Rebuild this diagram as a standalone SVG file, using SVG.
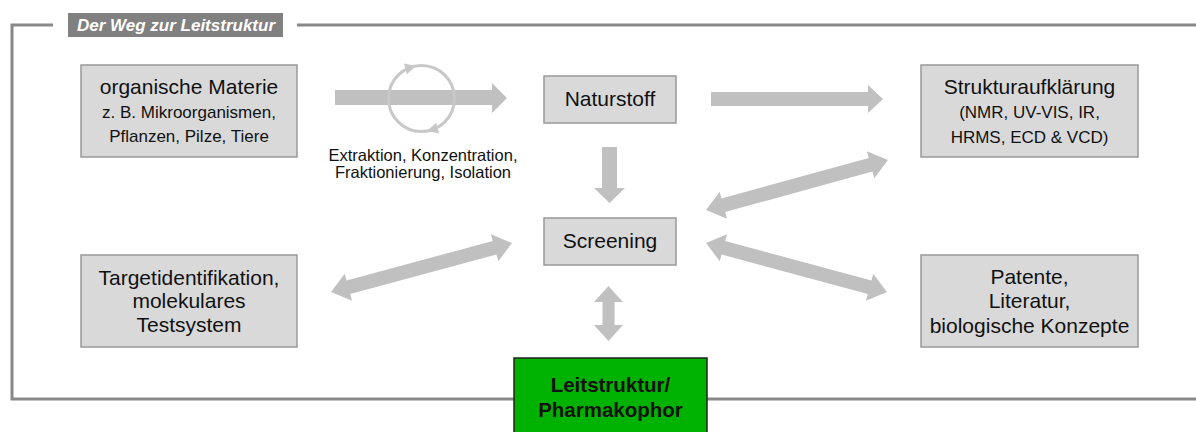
<svg xmlns="http://www.w3.org/2000/svg" width="1196" height="432" viewBox="0 0 1196 432">
<style>
.frame{fill:none;stroke:#888;stroke-width:3}
.box{fill:#d9d9d9;stroke:#999;stroke-width:1.5}
.t{font-family:"Liberation Sans",Arial,sans-serif;fill:#111;text-anchor:middle}
.l{font-size:21px}
.s{font-size:17px}
.arr{fill:#c0c0c0}
</style>
<rect width="1196" height="432" fill="#fff"/>
<g id="frame">
<polyline class="frame" points="53,25 12,25 12,399 514,399"/>
<polyline class="frame" points="297,25 1196,25"/>
<line class="frame" x1="707" y1="399" x2="1196" y2="399"/>
<rect x="68" y="13" width="215" height="24" fill="#808080"/>
<text x="176" y="31" font-family="Liberation Sans,Arial,sans-serif" font-size="17" font-weight="bold" font-style="italic" fill="#fff" text-anchor="middle">Der Weg zur Leitstruktur</text>
</g>
<g id="connectors">
<polygon class="arr" points="335,90 492,90 492,83 507,98 492,113 492,105 335,105"/>
<circle cx="421.5" cy="98.5" r="33" fill="none" stroke="#c8c8c8" stroke-width="3"/>
<polygon fill="#c8c8c8" points="0,0 -11,-5.5 -11,5.5" transform="translate(416,66) rotate(-15)"/>
<polygon fill="#c8c8c8" points="0,0 -11,-5.5 -11,5.5" transform="translate(427,131) rotate(165)"/>
<polygon class="arr" points="711,92 868,92 868,85 883,99 868,113 868,106 711,106"/>
<polygon class="arr" points="602,147 617,147 617,188 625,188 609.5,203 594,188 602,188"/>
<path class="arr" d="M0,0 L18,-14 L18,-7 L170.7,-7 L170.7,-14 L188.7,0 L170.7,14 L170.7,7 L18,7 L18,14 Z" transform="translate(706,210) rotate(-15.36)"/>
<path class="arr" d="M0,0 L18,-14 L18,-7 L169.5,-7 L169.5,-14 L187.5,0 L169.5,14 L169.5,7 L18,7 L18,14 Z" transform="translate(706,243) rotate(15.15)"/>
<path class="arr" d="M0,0 L18,-14 L18,-7 L169.5,-7 L169.5,-14 L187.5,0 L169.5,14 L169.5,7 L18,7 L18,14 Z" transform="translate(331,292) rotate(-15.15)"/>
<polygon class="arr" points="608.5,286 623,302 614.5,302 614.5,325 623,325 608.5,341 594,325 602.5,325 602.5,302 594,302"/>
<text class="t" x="423" y="160.5" font-size="16.5">Extraktion, Konzentration,</text>
<text class="t" x="423" y="178" font-size="16.5">Fraktionierung, Isolation</text>
</g>
<g id="organische">
<rect class="box" x="81" y="65" width="216" height="92"/>
<text class="t l" x="189" y="94">organische Materie</text>
<text class="t s" x="189" y="118">z. B. Mikroorganismen,</text>
<text class="t s" x="189" y="142">Pflanzen, Pilze, Tiere</text>
</g>
<g id="naturstoff">
<rect class="box" x="544" y="76" width="132" height="47"/>
<text class="t l" x="610" y="106">Naturstoff</text>
</g>
<g id="struktur">
<rect class="box" x="921" y="65" width="217" height="92"/>
<text class="t l" x="1029.5" y="94">Strukturaufklärung</text>
<text class="t s" x="1029.5" y="118">(NMR, UV-VIS, IR,</text>
<text class="t s" x="1029.5" y="143">HRMS, ECD &amp; VCD)</text>
</g>
<g id="screening">
<rect class="box" x="544" y="218" width="132" height="47"/>
<text class="t l" x="610" y="248">Screening</text>
</g>
<g id="target">
<rect class="box" x="81" y="255" width="216" height="92"/>
<text class="t l" x="189" y="285">Targetidentifikation,</text>
<text class="t l" x="189" y="308">molekulares</text>
<text class="t l" x="189" y="332">Testsystem</text>
</g>
<g id="patente">
<rect class="box" x="921" y="255" width="217" height="92"/>
<text class="t l" x="1029.5" y="284">Patente,</text>
<text class="t l" x="1029.5" y="308">Literatur,</text>
<text class="t l" x="1029.5" y="333">biologische Konzepte</text>
</g>
<g id="leitstruktur">
<rect x="514" y="358" width="193" height="80" fill="#00b200" stroke="#222" stroke-width="1.5"/>
<text class="t" x="610.5" y="392" font-size="20.5" font-weight="bold">Leitstruktur/</text>
<text class="t" x="610.5" y="417" font-size="20.5" font-weight="bold">Pharmakophor</text>
</g>
</svg>
